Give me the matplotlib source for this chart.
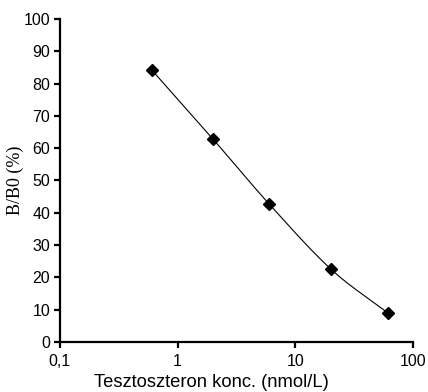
import numpy as np
import matplotlib
matplotlib.use("Agg")
import matplotlib.pyplot as plt
from matplotlib.ticker import FixedLocator, FixedFormatter, NullLocator

# data
conc = [0.6, 2.0, 6.0, 20.0, 61.0]
bb0 = [84.3, 62.8, 42.7, 22.6, 9.0]
x_ticks = [0.1, 1, 10, 100]
x_tick_labels = ["0,1", "1", "10", "100"]
y_ticks = list(range(0, 101, 10))


def catmull_rom(px, py, n=40):
    # Excel-style smoothed line through the points
    px = np.asarray(px, float)
    py = np.asarray(py, float)
    P = np.column_stack([px, py])
    P = np.vstack([2 * P[0] - P[1], P, 2 * P[-1] - P[-2]])
    out = []
    t = np.linspace(0, 1, n)[:, None]
    for i in range(1, len(P) - 2):
        p0, p1, p2, p3 = P[i - 1], P[i], P[i + 1], P[i + 2]
        seg = 0.5 * ((2 * p1) + (-p0 + p2) * t + (2 * p0 - 5 * p1 + 4 * p2 - p3) * t ** 2
                     + (-p0 + 3 * p1 - 3 * p2 + p3) * t ** 3)
        out.append(seg)
    out = np.vstack(out)
    return out[:, 0], out[:, 1]


fig = plt.figure(figsize=(4.28, 3.92), dpi=100)
ax = fig.add_axes([0.140, 0.1276, 0.825, 0.824])

# smooth in log-x space (scale y so both axes comparable)
lx = np.log10(conc)
sx, sy = catmull_rom(lx, np.array(bb0) / 33.3)
ax.plot(10 ** sx, sy * 33.3, color="black", lw=0.8)
ax.plot(conc, bb0, linestyle="none", marker="D", ms=6, color="black")

ax.set_xscale("log")
ax.set_xlim(0.1, 100)
ax.set_ylim(0, 100)
ax.xaxis.set_major_locator(FixedLocator(x_ticks))
ax.xaxis.set_major_formatter(FixedFormatter(x_tick_labels))
ax.xaxis.set_minor_locator(NullLocator())
ax.set_yticks(y_ticks)

for s in ["top", "right"]:
    ax.spines[s].set_visible(False)
for s in ["left", "bottom"]:
    ax.spines[s].set_linewidth(1.6)
ax.tick_params(direction="out", length=4, width=1.6, labelsize=11.5)
ax.tick_params(axis="x", pad=5)
ax.tick_params(axis="y", pad=3)
for lab in ax.get_xticklabels() + ax.get_yticklabels():
    lab.set_fontfamily("Liberation Sans")

# Excel centres the axis title on the chart area
fig.text(0.493, 0.003, "Tesztoszteron konc. (nmol/L)", fontsize=13.2,
         family="Liberation Sans", ha="center", va="bottom")
ax.set_ylabel("B/B0 (%)", fontsize=13, family="Liberation Serif", labelpad=0)

fig.savefig("out.png", dpi=100)
